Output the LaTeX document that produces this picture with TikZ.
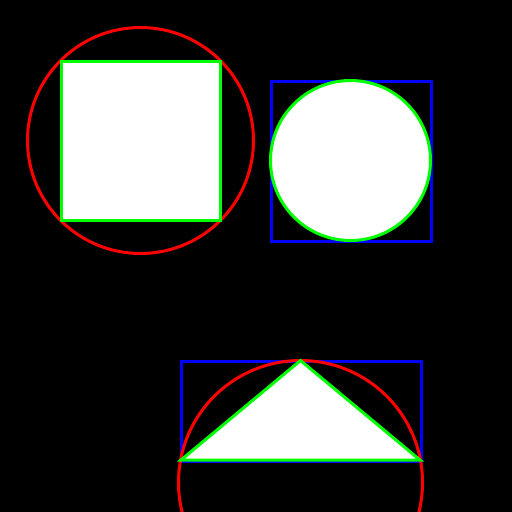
\documentclass[tikz,border=0pt]{standalone}
\begin{document}
\begin{tikzpicture}[x=1pt,y=-1pt,line width=3pt,
  redline/.style={draw={rgb,255:red,255;green,0;blue,0}},
  blueline/.style={draw={rgb,255:red,0;green,0;blue,255}},
  shapefill/.style={fill=white,draw={rgb,255:red,0;green,255;blue,0}}]
\fill[black] (0,0) rectangle (512,512);
\useasboundingbox (0,0) rectangle (512,512);
% top-left
\draw[redline] (140.5,140.5) circle (113);
\draw[shapefill] (61,61) rectangle (220,220);
% top-right
\draw[blueline] (271,81) rectangle (431,241);
\draw[shapefill] (350.5,160.5) circle (80);
% bottom
\draw[blueline] (181,361) rectangle (421,461);
\draw[redline] (300.5,482.5) circle (122);
\draw[shapefill,line join=miter] (181,460) -- (300.5,360.5) -- (420,460) -- cycle;
\end{tikzpicture}
\end{document}
